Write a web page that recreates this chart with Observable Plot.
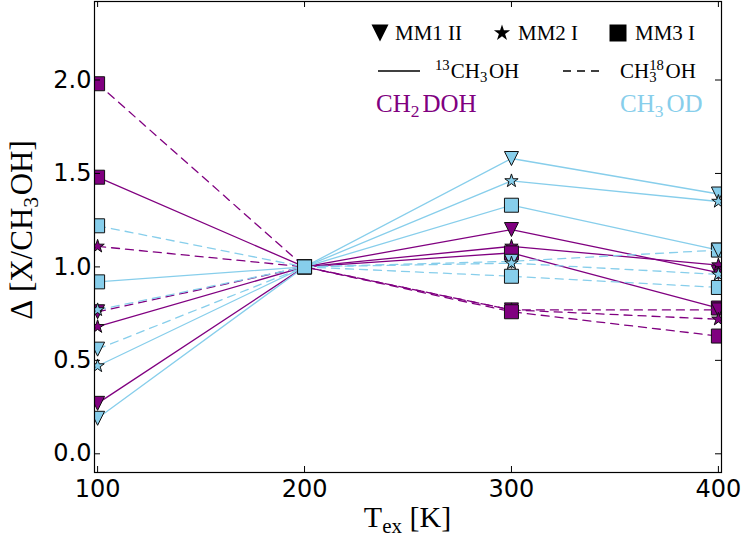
<!DOCTYPE html>
<html>
<head>
<meta charset="utf-8">
<script src="https://cdn.jsdelivr.net/npm/d3@7"></script>
<script src="https://cdn.jsdelivr.net/npm/@observablehq/plot@0.6"></script>
<style>
  html, body { margin: 0; padding: 0; background: #fff; }
  svg { display: block; }
</style>
</head>
<body>
<script>
// Excitation temperatures (K) and sources
const temps = [100, 200, 300, 400];
const sources = ["MM1 II", "MM2 I", "MM3 I"];

// Δ[X/CH3OH] per source (rows: MM1 II, MM2 I, MM3 I), one value per temperature
const ch2dohVs13 = [
  [0.27, 1.00, 1.20, 0.97],
  [0.68, 1.00, 1.11, 1.01],
  [1.48, 1.00, 1.075, 0.78]
];
const ch2dohVs18 = [
  [0.76, 1.00, 0.77, 0.77],
  [1.11, 1.00, 0.77, 0.72],
  [1.98, 1.00, 0.76, 0.63]
];
const ch3odVs13 = [
  [0.19, 1.00, 1.58, 1.39],
  [0.47, 1.00, 1.46, 1.35],
  [0.92, 1.00, 1.33, 1.09]
];
const ch3odVs18 = [
  [0.56, 1.00, 1.03, 1.09],
  [0.77, 1.00, 1.02, 0.96],
  [1.22, 1.00, 0.95, 0.89]
];

const xTicks = [100, 200, 300, 400];
const yTicks = [0, 0.5, 1.0, 1.5, 2.0];

const PURPLE = "#800080";
const SKYBLUE = "#87CEEB";

// marker shapes: size = π r², r is the half-width
const triangleDown = {
  draw(ctx, size) {
    const r = Math.sqrt(size / Math.PI);
    ctx.moveTo(0, r); ctx.lineTo(-r, -r); ctx.lineTo(r, -r); ctx.closePath();
  }
};
const star = {
  draw(ctx, size) {
    const R = Math.sqrt(size / Math.PI), ri = R * 0.381966;
    for (let i = 0; i < 10; i++) {
      const rad = i % 2 ? ri : R;
      const a = -Math.PI / 2 + i * Math.PI / 5;
      const px = rad * Math.cos(a), py = rad * Math.sin(a);
      if (i === 0) ctx.moveTo(px, py); else ctx.lineTo(px, py);
    }
    ctx.closePath();
  }
};
const square = {
  draw(ctx, size) {
    const r = Math.sqrt(size / Math.PI);
    ctx.moveTo(-r, -r); ctx.lineTo(r, -r); ctx.lineTo(r, r); ctx.lineTo(-r, r); ctx.closePath();
  }
};
const symbols = [triangleDown, star, square];

const W = 744, H = 543;
const mL = 94, mR = 23, mT = 1, mB = 71;
const innerW = W - mL - mR, innerH = H - mT - mB;

// solid: relative to 13CH3OH, dashed: relative to CH3-18OH
const references = [
  {dash: null, sets: [{color: PURPLE, v: ch2dohVs13}, {color: SKYBLUE, v: ch3odVs13}]},
  {dash: "8,6", sets: [{color: PURPLE, v: ch2dohVs18}, {color: SKYBLUE, v: ch3odVs18}]}
];

const seriesMarks = [];
for (const ref of references) {
  for (const m of ref.sets) {
    sources.forEach((src, i) => {
      const rows = temps.map((t, j) => ({t, v: m.v[i][j], src}));
      seriesMarks.push(Plot.line(rows, {
        x: "t", y: "v", stroke: m.color, strokeWidth: 1.3,
        strokeDasharray: ref.dash, clip: "frame"
      }));
      seriesMarks.push(Plot.dot(rows, {
        x: "t", y: "v", symbol: symbols[i], r: 7, fill: m.color,
        stroke: "#111", strokeWidth: 1, clip: "frame"
      }));
    });
  }
}

const chart = Plot.plot({
  width: W, height: H,
  marginLeft: mL, marginRight: mR, marginTop: mT, marginBottom: mB,
  style: {fontFamily: "DejaVu Sans", fontSize: "24px", color: "black", background: "white"},
  x: {domain: [98.5, 401.5]},
  y: {domain: [-0.1, 2.42]},
  marks: [
    Plot.axisX(xTicks, {anchor: "bottom", tickSize: 0, tickPadding: 7, label: null, tickFormat: d => String(d), fontSize: 24}),
    Plot.axisY(yTicks, {anchor: "left", tickSize: 0, tickPadding: 3, label: null, tickFormat: d3.format(".1f"), fontSize: 24}),
    ...seriesMarks,
    // inward tick marks on all four sides
    Plot.tickX(xTicks, {x: d => d, insetTop: innerH - 6, stroke: "black"}),
    Plot.tickX(xTicks, {x: d => d, insetBottom: innerH - 6, stroke: "black"}),
    Plot.tickY(yTicks, {y: d => d, insetRight: innerW - 6, stroke: "black"}),
    Plot.tickY(yTicks, {y: d => d, insetLeft: innerW - 6, stroke: "black"}),
    Plot.frame({stroke: "black", strokeWidth: 1.2})
  ]
});
document.body.appendChild(chart);

// ---- math-style labels (sub/superscripts) ----
const svg = d3.select(chart);
const SERIF = "Liberation Serif, DejaVu Serif, serif";

// lay out text pieces left to right; "stack" keeps the next piece at the same x
function rich(g, parts, size, fill) {
  let x = 0, held = 0;
  for (const p of parts) {
    const fs = p.s ? size * 0.7 : size;
    const dy = p.s === "sub" ? size * 0.2 : p.s === "sup" ? -size * 0.38 : 0;
    const el = g.append("text")
      .attr("x", x).attr("y", dy)
      .attr("text-anchor", "start")
      .attr("font-family", SERIF).attr("font-size", fs)
      .attr("fill", fill).attr("stroke", "none")
      .text(p.t);
    const w = el.node().getComputedTextLength() + (p.gap || 0) * size;
    if (p.stack) held = Math.max(held, w);
    else { x += Math.max(w, held); held = 0; }
  }
  return x;
}

// y-axis label
{
  const g = svg.append("g");
  const w = rich(g, [
    {t: "Δ", gap: 0.25}, {t: "[X/CH"}, {t: "3", s: "sub", gap: 0.05}, {t: "OH]"}
  ], 31, "black");
  g.attr("transform", `translate(32,${230 + w / 2}) rotate(-90)`);
}
// x-axis label
{
  const g = svg.append("g");
  const w = rich(g, [
    {t: "T"}, {t: "ex", s: "sub", gap: 0.25}, {t: "[K]"}
  ], 30, "black");
  g.attr("transform", `translate(${(mL + W - mR) / 2 - w / 2},527)`);
}

// ---- legend ----
const leg = svg.append("g");
const legendMarkers = [
  {sym: triangleDown, x: 380, tx: 395, label: "MM1 II"},
  {sym: star, x: 502, tx: 518, label: "MM2 I"},
  {sym: square, x: 618, tx: 635, label: "MM3 I"}
];
for (const e of legendMarkers) {
  leg.append("path")
    .attr("d", d3.symbol(e.sym, Math.PI * 8.5 * 8.5)())
    .attr("transform", `translate(${e.x},33)`)
    .attr("fill", "black");
  const g = leg.append("g").attr("transform", `translate(${e.tx},40)`);
  rich(g, [{t: e.label}], 21, "black");
}
leg.append("line").attr("x1", 378).attr("x2", 420).attr("y1", 71).attr("y2", 71)
  .attr("stroke", "black").attr("stroke-width", 1.3);
leg.append("line").attr("x1", 563).attr("x2", 605).attr("y1", 71).attr("y2", 71)
  .attr("stroke", "black").attr("stroke-width", 1.3).attr("stroke-dasharray", "8,6");
rich(leg.append("g").attr("transform", "translate(435,78)"),
  [{t: "13", s: "sup", gap: 0.05}, {t: "CH"}, {t: "3", s: "sub", gap: 0.08}, {t: "OH"}], 21, "black");
rich(leg.append("g").attr("transform", "translate(620,78)"),
  [{t: "CH"}, {t: "3", s: "sub", stack: true}, {t: "18", s: "sup", gap: 0.08}, {t: "OH"}], 21, "black");
rich(leg.append("g").attr("transform", "translate(376,112)"),
  [{t: "CH"}, {t: "2", s: "sub", gap: 0.12}, {t: "DOH"}], 25, PURPLE);
rich(leg.append("g").attr("transform", "translate(620,112)"),
  [{t: "CH"}, {t: "3", s: "sub", gap: 0.12}, {t: "OD"}], 25, SKYBLUE);
</script>
</body>
</html>
